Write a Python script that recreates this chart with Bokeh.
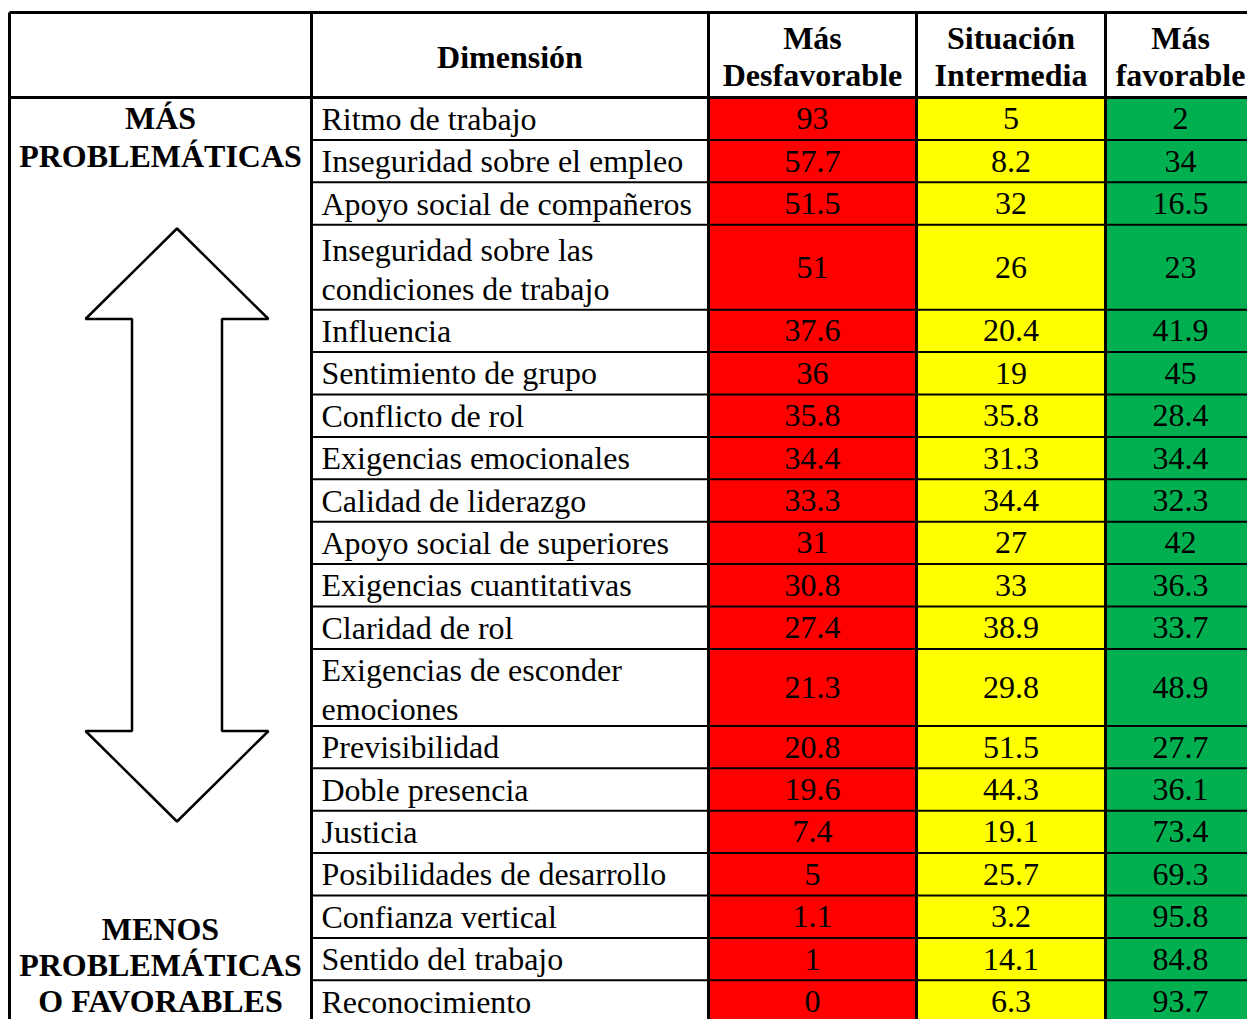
from bokeh.plotting import figure
from bokeh.models import Range1d, ColumnDataSource
from bokeh.core.properties import value
from bokeh.embed import file_html
from bokeh.resources import INLINE

# ---------------- data ----------------
dimensions = [
    "Ritmo de trabajo",
    "Inseguridad sobre el empleo",
    "Apoyo social de compañeros",
    "Inseguridad sobre las\ncondiciones de trabajo",
    "Influencia",
    "Sentimiento de grupo",
    "Conflicto de rol",
    "Exigencias emocionales",
    "Calidad de liderazgo",
    "Apoyo social de superiores",
    "Exigencias cuantitativas",
    "Claridad de rol",
    "Exigencias de esconder\nemociones",
    "Previsibilidad",
    "Doble presencia",
    "Justicia",
    "Posibilidades de desarrollo",
    "Confianza vertical",
    "Sentido del trabajo",
    "Reconocimiento",
]
mas_desfavorable = [93, 57.7, 51.5, 51, 37.6, 36, 35.8, 34.4, 33.3, 31, 30.8, 27.4, 21.3, 20.8, 19.6, 7.4, 5, 1.1, 1, 0]
situacion_intermedia = [5, 8.2, 32, 26, 20.4, 19, 35.8, 31.3, 34.4, 27, 33, 38.9, 29.8, 51.5, 44.3, 19.1, 25.7, 3.2, 14.1, 6.3]
mas_favorable = [2, 34, 16.5, 23, 41.9, 45, 28.4, 34.4, 32.3, 42, 36.3, 33.7, 48.9, 27.7, 36.1, 73.4, 69.3, 95.8, 84.8, 93.7]
column_headers = ["Dimensión", "Más\nDesfavorable", "Situación\nIntermedia", "Más\nfavorable"]
top_label = "MÁS\nPROBLEMÁTICAS"
bottom_label = "MENOS\nPROBLEMÁTICAS\nO FAVORABLES"

# ---------------- layout (picture pixels) ----------------
W, H = 1247, 1019
col_x = [9, 311, 708, 916, 1105, 1262]       # column boundaries
table_top, header_bottom = 12, 97
single_h = 42.4
double_h = {3: 85.0, 12: 77.0}
col_colors = ["#FF0000", "#FFFF00", "#00B050"]
FONT = value("Liberation Serif")

row_tops, row_bots = [], []
y = header_bottom
for i in range(len(dimensions)):
    h = double_h.get(i, single_h)
    row_tops.append(y)
    row_bots.append(y + h)
    y += h
table_bottom = y
row_mid = [(t + b) / 2 for t, b in zip(row_tops, row_bots)]

p = figure(width=W, height=H, x_range=Range1d(0, W), y_range=Range1d(H, 0),
           output_backend="svg", toolbar_location=None, min_border=0)
p.axis.visible = False
p.grid.visible = False
p.outline_line_color = None
p.background_fill_color = "white"
p.border_fill_color = "white"

# coloured value cells
series = [mas_desfavorable, situacion_intermedia, mas_favorable]
val_x = [812, 1010.5, 1180]
for k, vals in enumerate(series):
    src = ColumnDataSource(dict(
        left=[col_x[2 + k]] * len(vals), right=[col_x[3 + k]] * len(vals),
        top=row_tops, bottom=row_bots,
        x=[val_x[k]] * len(vals), y=row_mid,
        txt=[("%g" % v) for v in vals]))
    p.quad(left="left", right="right", top="top", bottom="bottom", source=src,
           fill_color=col_colors[k], line_color=None)
    p.text(x="x", y="y", text="txt", source=src, text_font=FONT, text_font_size="32px",
           text_align="center", text_baseline="middle", text_color="black")

# dimension names
dy = [2 if "\n" in d else 0 for d in dimensions]
dsrc = ColumnDataSource(dict(x=[col_x[1] + 10] * len(dimensions),
                             y=[m + o for m, o in zip(row_mid, dy)],
                             txt=dimensions))
p.text(x="x", y="y", text="txt", source=dsrc, text_font=FONT, text_font_size="32px",
       text_align="left", text_baseline="middle", text_color="black", text_line_height=1.073)

# headers
hx = [(col_x[1] + col_x[2]) / 2, (col_x[2] + col_x[3]) / 2, (col_x[3] + col_x[4]) / 2, 1180]
p.text(x=hx, y=[56] * 4, text=column_headers, text_font=FONT,
       text_font_size="32px", text_font_style="bold", text_align="center",
       text_baseline="middle", text_line_height=1.016)

# side labels
p.text(x=[160], y=[136.5], text=[top_label], text_font=FONT, text_font_size="32px",
       text_font_style="bold", text_align="center", text_baseline="middle", text_line_height=1.045)
p.text(x=[160], y=[964], text=[bottom_label], text_font=FONT, text_font_size="32px",
       text_font_style="bold", text_align="center", text_baseline="middle", text_line_height=1.0)

# double arrow
ax = [176.5, 268, 221.5, 221.5, 268, 176.5, 85, 131.5, 131.5, 85]
ay = [228, 318.5, 318.5, 730.5, 730.5, 821, 730.5, 730.5, 318.5, 318.5]
p.patch(ax, ay, fill_color="white", line_color="black", line_width=2.5)

# grid lines
p.segment(x0=[col_x[1]] * len(row_tops[1:]), x1=[1262] * len(row_tops[1:]),
          y0=row_tops[1:], y1=row_tops[1:], line_color="black", line_width=2)
p.segment(x0=[col_x[0], col_x[0]], x1=[1262, 1262], y0=[table_top, header_bottom],
          y1=[table_top, header_bottom], line_color="black", line_width=3)
p.segment(x0=col_x[:5], x1=col_x[:5], y0=[table_top] * 5, y1=[table_bottom] * 5,
          line_color="black", line_width=3)

open("out.html", "w").write(file_html(p, INLINE))
